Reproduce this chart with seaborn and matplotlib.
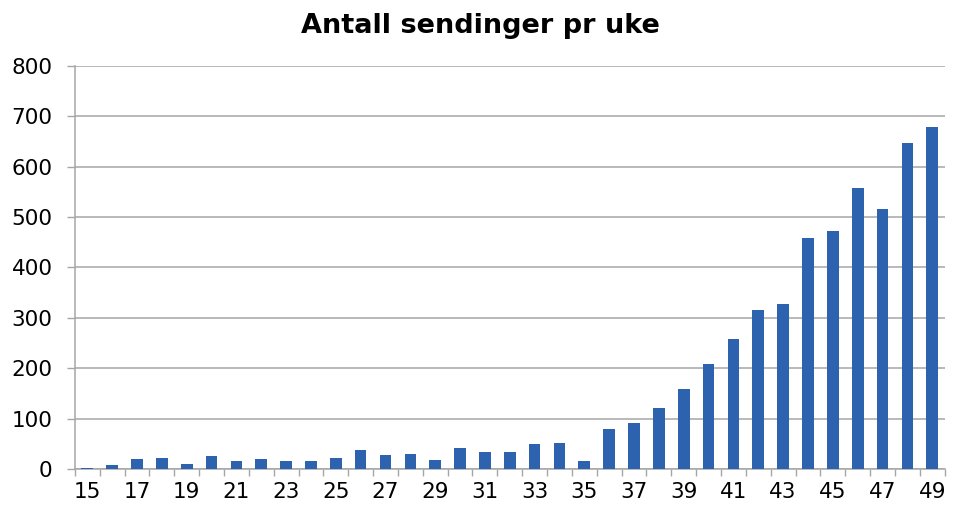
import numpy as np
import pandas as pd
import matplotlib
matplotlib.use('Agg')
import matplotlib.pyplot as plt
import seaborn as sns

# data
weeks = list(range(15, 50))
sendinger = [3, 7, 20, 22, 10, 26, 16, 20, 16, 16, 22, 37, 28, 30, 18, 41, 34, 34, 49, 51,
             16, 79, 91, 121, 158, 209, 258, 315, 328, 458, 473, 558, 516, 648, 679]
title = 'Antall sendinger pr uke'

df = pd.DataFrame({'uke': [str(w) for w in weeks], 'antall': sendinger})

sns.set_theme(style='white')
plt.rcParams['font.family'] = ['DejaVu Sans']

grey = '#a6a6a6'
fig = plt.figure(figsize=(9.6, 5.22), dpi=100)
ax = fig.add_axes([0.078, 0.1015, 0.906, 0.7721])

sns.barplot(data=df, x='uke', y='antall', color='#2c62ae', saturation=1,
            width=0.47, linewidth=0, ax=ax, zorder=3)

ax.set_xlim(-0.5, len(weeks) - 0.5)
ax.set_ylim(0, 800)
ax.set_yticks(np.arange(0, 801, 100))
ax.yaxis.grid(True, color=grey, linewidth=1.1, zorder=0)
ax.set_axisbelow(True)

# labels every second week, tick marks at category boundaries
ax.set_xticks(range(0, len(weeks), 2))
ax.set_xticklabels([str(w) for w in weeks[::2]])
ax.set_xticks(np.arange(-0.5, len(weeks), 1), minor=True)
ax.tick_params(axis='x', which='major', length=0, pad=9, labelsize=15.5, colors='black')
ax.tick_params(axis='x', which='minor', length=5, width=1, color=grey, bottom=True)
ax.tick_params(axis='y', length=6, width=1, color=grey, left=True, pad=10,
               labelsize=15.5, labelcolor='black')

for s in ['top', 'right']:
    ax.spines[s].set_visible(False)
for s in ['left', 'bottom']:
    ax.spines[s].set_color(grey)
    ax.spines[s].set_linewidth(1.1)

ax.set_xlabel('')
ax.set_ylabel('')
fig.suptitle(title, x=0.5, y=0.975, fontsize=19.5, fontweight='bold', va='top', color='black')

fig.savefig('out.png', dpi=100)
